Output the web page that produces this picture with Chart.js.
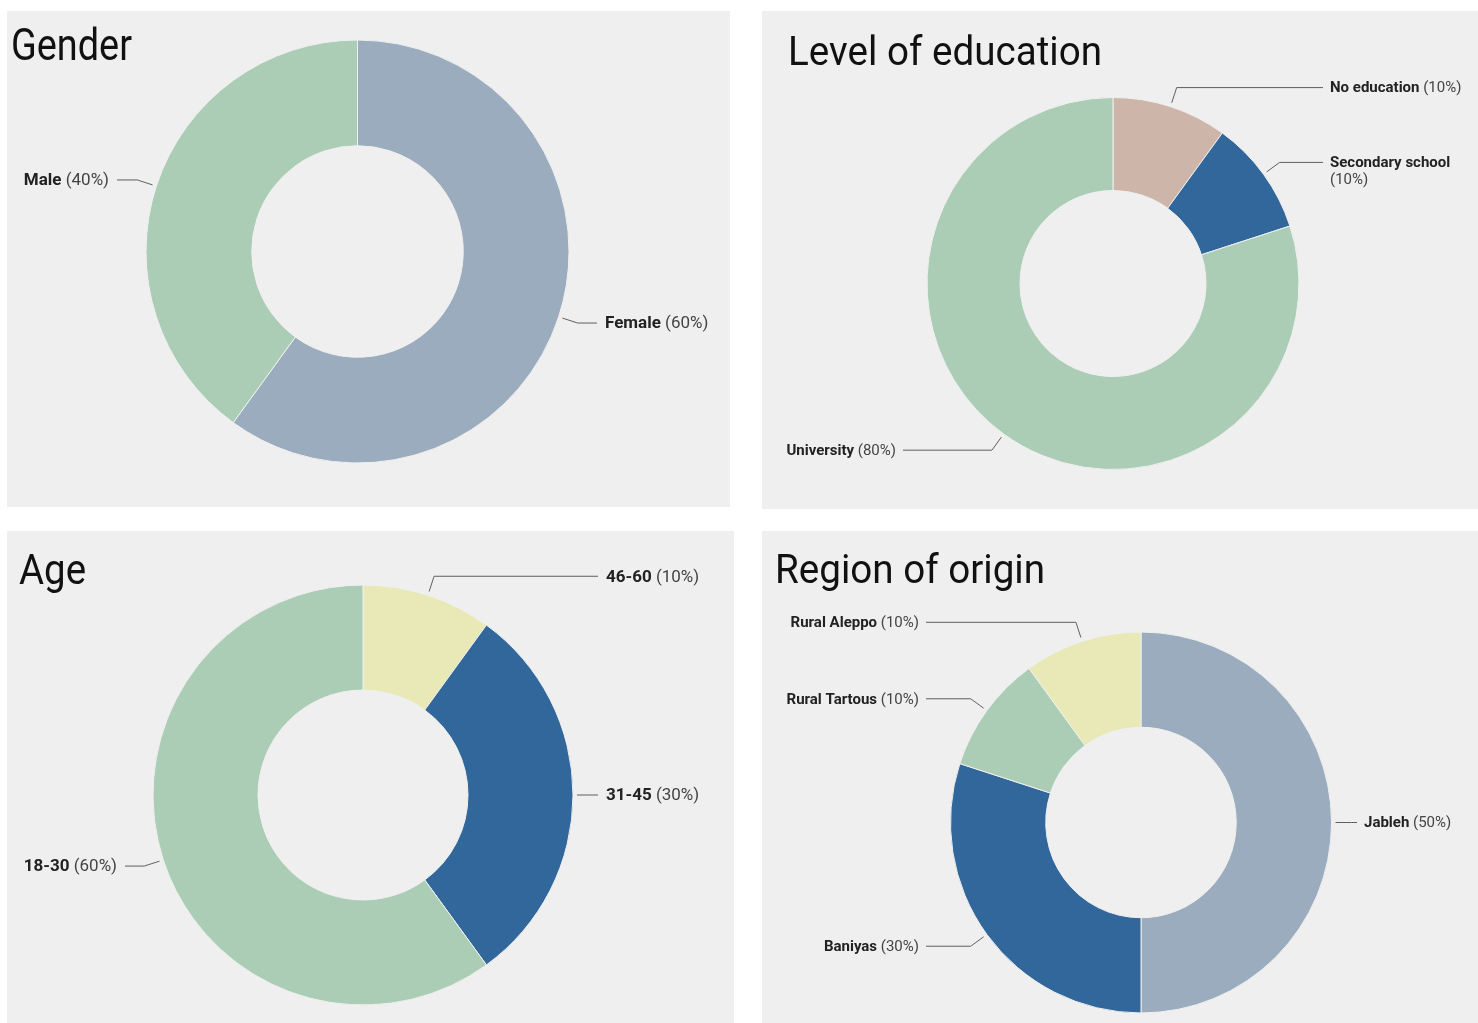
<!DOCTYPE html>
<html>
<head>
<meta charset="utf-8">
<script src="https://cdn.jsdelivr.net/npm/chart.js@4.4.0/dist/chart.umd.min.js"></script>
<style>
  body { margin: 0; background: #fff; width: 1478px; height: 1023px; position: relative; overflow: hidden; }
  .panel { position: absolute; background: #efefef; }
  .panel canvas { position: absolute; left: 0; top: 0; }
</style>
</head>
<body>
<div class="panel" style="left:7px;top:11px;width:723px;height:496px"><canvas id="gender" width="723" height="496"></canvas></div>
<div class="panel" style="left:762px;top:11px;width:716px;height:498px"><canvas id="education" width="716" height="498"></canvas></div>
<div class="panel" style="left:7px;top:531px;width:727px;height:492px"><canvas id="age" width="727" height="492"></canvas></div>
<div class="panel" style="left:762px;top:531px;width:716px;height:492px"><canvas id="region" width="716" height="492"></canvas></div>
<script>
// data (percent of respondents)
const genderLabels = ['Female', 'Male'];
const genderValues = [60, 40];
const educationLabels = ['No education', 'Secondary school', 'University'];
const educationValues = [10, 10, 80];
const ageLabels = ['46-60', '31-45', '18-30'];
const ageValues = [10, 30, 60];
const regionLabels = ['Jableh', 'Baniyas', 'Rural Tartous', 'Rural Aleppo'];
const regionValues = [50, 30, 10, 10];

// palette
const slate = '#9aacbd', sage = '#abcdb5', taupe = '#cdb5aa', navy = '#31679a', cream = '#e8e9b6';
const BG = '#efefef';
const FONT = 'Roboto, "Liberation Sans", sans-serif';

// title + leader-line labels drawn on top of the arcs
const calloutPlugin = {
    id: 'callouts',
    afterDatasetsDraw(chart, args, opts) {
        const ctx = chart.ctx;
        const meta = chart.getDatasetMeta(0);
        const labels = chart.data.labels;
        const values = chart.data.datasets[0].data;
        ctx.save();

        // title, squeezed to look like a condensed face
        if (opts.title) {
            const t = opts.title;
            ctx.font = '400 ' + t.size + 'px ' + FONT;
            ctx.fillStyle = '#111';
            ctx.textBaseline = 'alphabetic';
            ctx.textAlign = 'left';
            const natural = ctx.measureText(t.text).width;
            ctx.save();
            ctx.translate(t.x, t.y);
            ctx.scale(t.width / natural, 1);
            ctx.fillText(t.text, 0, 0);
            ctx.restore();
        }

        const size = opts.size;
        const gap = Math.round(size * 0.47);
        const lh = Math.round(size * 1.13);
        meta.data.forEach((arc, i) => {
            const p = arc.getProps(['x', 'y', 'startAngle', 'endAngle', 'outerRadius'], true);
            const mid = (p.startAngle + p.endAngle) / 2;
            const cos = Math.cos(mid), sin = Math.sin(mid);
            const right = cos >= 0;
            const x0 = p.x + cos * (p.outerRadius + 4), y0 = p.y + sin * (p.outerRadius + 4);
            const x1 = p.x + cos * (p.outerRadius + 20), y1 = p.y + sin * (p.outerRadius + 20);
            const x2 = right ? opts.right : opts.left;

            ctx.strokeStyle = '#5f5f5f';
            ctx.lineWidth = 1;
            ctx.beginPath();
            ctx.moveTo(x0, y0);
            ctx.lineTo(x1, y1);
            ctx.lineTo(x2, y1);
            ctx.stroke();

            const name = labels[i];
            const pct = '(' + values[i] + '%)';
            ctx.textBaseline = 'middle';
            ctx.textAlign = 'left';
            ctx.font = '700 ' + size + 'px ' + FONT;
            const nw = ctx.measureText(name + ' ').width;
            ctx.font = '400 ' + size + 'px ' + FONT;
            const pw = ctx.measureText(pct).width;

            const tx = right ? x2 + gap : x2 - gap - nw - pw;
            const ty = y1 + 1;
            const wrap = right && tx + nw + pw > chart.width - 6;

            ctx.font = '700 ' + size + 'px ' + FONT;
            ctx.fillStyle = '#222';
            ctx.fillText(name, tx, ty);
            ctx.font = '400 ' + size + 'px ' + FONT;
            ctx.fillStyle = '#444';
            if (wrap) ctx.fillText(pct, tx, ty + lh);
            else ctx.fillText(pct, tx + nw, ty);
        });
        ctx.restore();
    }
};

function makeDonut(id, labels, values, colors, layout, title) {
    const canvas = document.getElementById(id);
    const w = canvas.width, h = canvas.height;
    // put the chart area as a square around the wanted centre
    const half = layout.r + 0.5;
    const pad = {
        left: layout.cx - half,
        right: w - layout.cx - half,
        top: layout.cy - half,
        bottom: h - layout.cy - half
    };
    return new Chart(canvas, {
        type: 'doughnut',
        data: {
            labels,
            datasets: [{ data: values, backgroundColor: colors, borderColor: BG, borderWidth: 1 }]
        },
        options: {
            responsive: false,
            animation: false,
            events: [],
            cutout: '50%',
            layout: { padding: pad },
            plugins: {
                legend: { display: false },
                tooltip: { enabled: false },
                callouts: { left: layout.left, right: layout.right, size: layout.font, title }
            }
        },
        plugins: [calloutPlugin]
    });
}

makeDonut('gender', genderLabels, genderValues, [slate, sage],
    { cx: 350.5, cy: 240.5, r: 211.5, left: 110, right: 590, font: 17 },
    { text: 'Gender', x: 4, y: 49, size: 45, width: 121 });

makeDonut('education', educationLabels, educationValues, [taupe, navy, sage],
    { cx: 351, cy: 272.5, r: 186, left: 141, right: 561, font: 15 },
    { text: 'Level of education', x: 26, y: 54, size: 40, width: 314 });

makeDonut('age', ageLabels, ageValues, [cream, navy, sage],
    { cx: 356, cy: 264, r: 210, left: 118, right: 591, font: 17 },
    { text: 'Age', x: 12, y: 53, size: 42, width: 67 });

makeDonut('region', regionLabels, regionValues, [slate, navy, sage, cream],
    { cx: 379, cy: 291.5, r: 190.5, left: 164, right: 595, font: 15 },
    { text: 'Region of origin', x: 13, y: 52, size: 40, width: 270 });
</script>
</body>
</html>
